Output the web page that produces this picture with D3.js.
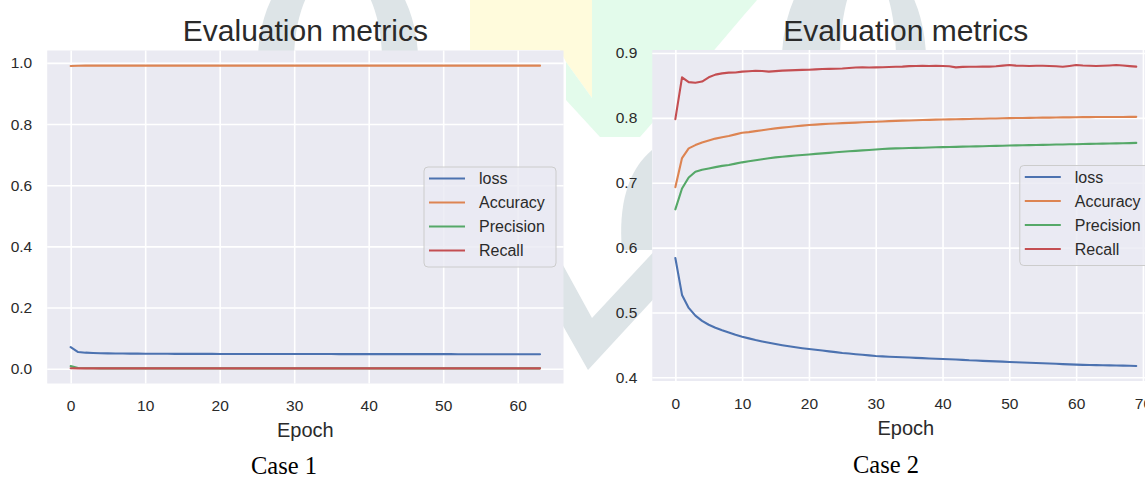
<!DOCTYPE html>
<html>
<head>
<meta charset="utf-8">
<script src="https://cdn.jsdelivr.net/npm/d3@7"></script>
<style>
  body { margin: 0; background: #ffffff; }
  svg { display: block; }
  text { font-family: "Liberation Sans", Arial, sans-serif; fill: #2a2a2a; }
  .caption { font-family: "Liberation Serif", "Times New Roman", serif; fill: #000; }
</style>
</head>
<body>
<svg id="fig" width="1145" height="479"></svg>
<script>
// ---- series names, colours ----
const seriesNames = ["loss", "Accuracy", "Precision", "Recall"];
const seriesColors = ["#4c72b0", "#dd8452", "#55a868", "#c44e52"];

// ---- Case 1 : 64 epochs ----
const case1Loss = [
  0.0705,0.0545,0.0525,0.0515,0.0508,0.0503,0.0500,0.0497,
  0.0495,0.0493,0.0491,0.0490,0.0489,0.0488,0.0487,0.0487,
  0.0486,0.0486,0.0485,0.0485,0.0484,0.0484,0.0484,0.0483,
  0.0483,0.0483,0.0482,0.0482,0.0482,0.0481,0.0481,0.0481,
  0.0480,0.0480,0.0480,0.0480,0.0479,0.0479,0.0479,0.0479,
  0.0478,0.0478,0.0478,0.0478,0.0477,0.0477,0.0477,0.0477,
  0.0476,0.0476,0.0476,0.0476,0.0475,0.0475,0.0475,0.0475,
  0.0474,0.0474,0.0474,0.0474,0.0473,0.0473,0.0473,0.0472
];
const case1Accuracy = [
  0.9900,0.9908,0.9910,0.9910,0.9910,0.9910,0.9910,0.9910,
  0.9910,0.9910,0.9910,0.9910,0.9910,0.9910,0.9910,0.9910,
  0.9910,0.9910,0.9910,0.9910,0.9910,0.9910,0.9910,0.9910,
  0.9910,0.9910,0.9910,0.9910,0.9910,0.9910,0.9910,0.9910,
  0.9910,0.9910,0.9910,0.9910,0.9910,0.9910,0.9910,0.9910,
  0.9910,0.9910,0.9910,0.9910,0.9910,0.9910,0.9910,0.9910,
  0.9910,0.9910,0.9910,0.9910,0.9910,0.9910,0.9910,0.9910,
  0.9910,0.9910,0.9910,0.9910,0.9910,0.9910,0.9910,0.9910
];
const case1Precision = [
  0.0085,0.0025,0.0018,0.0015,0.0013,0.0012,0.0012,0.0012,
  0.0012,0.0012,0.0012,0.0012,0.0012,0.0012,0.0012,0.0012,
  0.0012,0.0012,0.0012,0.0012,0.0012,0.0012,0.0012,0.0012,
  0.0012,0.0012,0.0012,0.0012,0.0012,0.0012,0.0012,0.0012,
  0.0012,0.0012,0.0012,0.0012,0.0012,0.0012,0.0012,0.0012,
  0.0012,0.0012,0.0012,0.0012,0.0012,0.0012,0.0012,0.0012,
  0.0012,0.0012,0.0012,0.0012,0.0012,0.0012,0.0012,0.0012,
  0.0012,0.0012,0.0012,0.0012,0.0012,0.0012,0.0012,0.0012
];
const case1Recall = [
  0.0015,0.0012,0.0012,0.0012,0.0012,0.0012,0.0012,0.0012,
  0.0012,0.0012,0.0012,0.0012,0.0012,0.0012,0.0012,0.0012,
  0.0012,0.0012,0.0012,0.0012,0.0012,0.0012,0.0012,0.0012,
  0.0012,0.0012,0.0012,0.0012,0.0012,0.0012,0.0012,0.0012,
  0.0012,0.0012,0.0012,0.0012,0.0012,0.0012,0.0012,0.0012,
  0.0012,0.0012,0.0012,0.0012,0.0012,0.0012,0.0012,0.0012,
  0.0012,0.0012,0.0012,0.0012,0.0012,0.0012,0.0012,0.0012,
  0.0012,0.0012,0.0012,0.0012,0.0012,0.0012,0.0012,0.0012
];
const case1XTicks = [0, 10, 20, 30, 40, 50, 60];
const case1YTicks = [0.0, 0.2, 0.4, 0.6, 0.8, 1.0];

// ---- Case 2 : 70 epochs ----
const case2Loss = [
  0.5840,0.5270,0.5070,0.4950,0.4870,0.4810,0.4765,0.4725,0.4690,0.4655,
  0.4626,0.4600,0.4575,0.4553,0.4533,0.4513,0.4495,0.4478,0.4463,0.4449,
  0.4436,0.4424,0.4412,0.4400,0.4388,0.4375,0.4366,0.4356,0.4347,0.4338,
  0.4329,0.4323,0.4318,0.4313,0.4310,0.4306,0.4300,0.4295,0.4290,0.4286,
  0.4283,0.4278,0.4274,0.4269,0.4262,0.4258,0.4254,0.4250,0.4245,0.4241,
  0.4237,0.4233,0.4229,0.4224,0.4220,0.4216,0.4212,0.4208,0.4203,0.4199,
  0.4195,0.4192,0.4190,0.4188,0.4186,0.4184,0.4182,0.4180,0.4178,0.4175
];
const case2Accuracy = [
  0.6930,0.7380,0.7530,0.7580,0.7620,0.7650,0.7680,0.7700,0.7720,0.7745,
  0.7770,0.7780,0.7795,0.7810,0.7825,0.7838,0.7849,0.7860,0.7870,0.7880,
  0.7889,0.7896,0.7903,0.7909,0.7914,0.7919,0.7923,0.7927,0.7931,0.7935,
  0.7939,0.7944,0.7949,0.7954,0.7957,0.7960,0.7963,0.7966,0.7969,0.7972,
  0.7975,0.7977,0.7979,0.7981,0.7983,0.7985,0.7987,0.7989,0.7991,0.7993,
  0.7995,0.7997,0.7998,0.8000,0.8001,0.8003,0.8004,0.8006,0.8007,0.8008,
  0.8010,0.8011,0.8011,0.8012,0.8013,0.8013,0.8014,0.8014,0.8015,0.8015
];
const case2Precision = [
  0.6590,0.6910,0.7080,0.7170,0.7200,0.7220,0.7240,0.7260,0.7274,0.7294,
  0.7314,0.7330,0.7346,0.7361,0.7376,0.7390,0.7400,0.7410,0.7419,0.7428,
  0.7436,0.7444,0.7452,0.7460,0.7469,0.7477,0.7484,0.7491,0.7498,0.7505,
  0.7512,0.7519,0.7526,0.7530,0.7532,0.7534,0.7537,0.7540,0.7543,0.7546,
  0.7549,0.7551,0.7553,0.7556,0.7558,0.7560,0.7563,0.7566,0.7568,0.7570,
  0.7573,0.7575,0.7577,0.7579,0.7581,0.7583,0.7586,0.7588,0.7590,0.7592,
  0.7594,0.7596,0.7598,0.7600,0.7602,0.7605,0.7607,0.7609,0.7611,0.7614
];
const case2Recall = [
  0.7980,0.8625,0.8550,0.8540,0.8560,0.8625,0.8666,0.8686,0.8697,0.8700,
  0.8712,0.8718,0.8725,0.8722,0.8712,0.8720,0.8728,0.8732,0.8735,0.8740,
  0.8742,0.8748,0.8752,0.8755,0.8758,0.8760,0.8768,0.8776,0.8778,0.8776,
  0.8778,0.8780,0.8784,0.8788,0.8790,0.8798,0.8800,0.8802,0.8800,0.8803,
  0.8800,0.8795,0.8778,0.8786,0.8788,0.8788,0.8789,0.8790,0.8795,0.8805,
  0.8814,0.8805,0.8802,0.8800,0.8802,0.8803,0.8800,0.8795,0.8788,0.8800,
  0.8814,0.8806,0.8802,0.8800,0.8803,0.8808,0.8814,0.8808,0.8798,0.8790
];
const case2XTicks = [0, 10, 20, 30, 40, 50, 60, 70];
const case2YTicks = [0.4, 0.5, 0.6, 0.7, 0.8, 0.9];

const titleText = "Evaluation metrics";
const xLabelText = "Epoch";

// ---- figure layout ----
const panels = [
  { series: [case1Loss, case1Accuracy, case1Precision, case1Recall],
    xTicks: case1XTicks, yTicks: case1YTicks, caption: "Case 1",
    box: { x0: 47.2, x1: 563.5, y0: 50.5, y1: 383.5 }, captionX: 284, captionY: 474 },
  { series: [case2Loss, case2Accuracy, case2Precision, case2Recall],
    xTicks: case2XTicks, yTicks: case2YTicks, caption: "Case 2",
    box: { x0: 652.3, x1: 1159.3, y0: 50, y1: 381 }, captionX: 886, captionY: 473 }
];

const svg = d3.select("#fig");

// faint emblem printed in the page background
const deco = svg.append("g").attr("class", "emblem");
const grey = "#dde4e7";
// ring segments behind the two titles
deco.append("path")
  .attr("d",
    "M258,60 A80,110 0 1,1 418,60 A80,110 0 1,1 258,60 Z " +
    "M294,60 A44,90 0 1,0 382,60 A44,90 0 1,0 294,60 Z")
  .attr("fill", grey).attr("fill-rule", "evenodd");
deco.append("path")
  .attr("d",
    "M782,60 A72,110 0 1,1 926,60 A72,110 0 1,1 782,60 Z " +
    "M840,60 A28,90 0 1,0 896,60 A28,90 0 1,0 840,60 Z")
  .attr("fill", grey).attr("fill-rule", "evenodd");
deco.append("path")
  .attr("d", "M470,0 L592,0 L592,98 L566,62 L560,50 L470,50 Z")
  .attr("fill", "#fffbdc");
deco.append("path")
  .attr("d", "M592,0 L757,0 C722,40 680,92 640,137 L600,137 L566,100 L566,62 L592,98 Z")
  .attr("fill", "#e3fbeb");
// check mark
deco.append("path")
  .attr("d", "M530,205 L592,318 L660,245 L660,292 L588,370 L520,250 Z")
  .attr("fill", grey);
deco.append("path")
  .attr("d", "M652,150 C628,170 618,205 622,250 L652,250 Z")
  .attr("fill", grey);

const pad = 0.05;

panels.forEach(p => {
  const b = p.box;
  const n = p.series[0].length;
  const allVals = p.series.flat();
  const lo = d3.min(allVals), hi = d3.max(allVals);
  const x = d3.scaleLinear()
    .domain([-(n - 1) * pad, (n - 1) * (1 + pad)])
    .range([b.x0, b.x1]);
  const y = d3.scaleLinear()
    .domain([lo - (hi - lo) * pad, hi + (hi - lo) * pad])
    .range([b.y1, b.y0]);

  const g = svg.append("g");

  // axes face
  g.append("rect")
    .attr("x", b.x0).attr("y", b.y0)
    .attr("width", b.x1 - b.x0).attr("height", b.y1 - b.y0)
    .attr("fill", "#eaeaf2");

  // white grid from the axis generators
  const gridX = g.append("g")
    .attr("transform", `translate(0,${b.y1})`)
    .call(d3.axisBottom(x).tickValues(p.xTicks).tickSize(-(b.y1 - b.y0)).tickFormat(""));
  const gridY = g.append("g")
    .attr("transform", `translate(${b.x0},0)`)
    .call(d3.axisLeft(y).tickValues(p.yTicks).tickSize(-(b.x1 - b.x0)).tickFormat(""));
  [gridX, gridY].forEach(a => {
    a.select(".domain").remove();
    a.selectAll("line").attr("stroke", "#ffffff").attr("stroke-width", 1.6);
  });

  // tick labels
  const axX = g.append("g")
    .attr("transform", `translate(0,${b.y1})`)
    .call(d3.axisBottom(x).tickValues(p.xTicks).tickSize(0).tickPadding(0).tickFormat(d3.format("d")));
  axX.select(".domain").remove();
  axX.selectAll("text")
    .attr("y", 27.5).attr("dy", null)
    .attr("font-size", 15.5).attr("fill", "#2a2a2a")
    .style("font-family", "'Liberation Sans', Arial, sans-serif");

  const axY = g.append("g")
    .attr("transform", `translate(${b.x0},0)`)
    .call(d3.axisLeft(y).tickValues(p.yTicks).tickSize(0).tickPadding(15).tickFormat(d3.format(".1f")));
  axY.select(".domain").remove();
  axY.selectAll("text")
    .attr("font-size", 15.5).attr("fill", "#2a2a2a")
    .style("font-family", "'Liberation Sans', Arial, sans-serif");

  // series lines
  const line = d3.line().x((d, i) => x(i)).y(d => y(d));
  const clipId = "clip" + p.caption.replace(/\s/g, "");
  svg.append("clipPath").attr("id", clipId)
    .append("rect").attr("x", b.x0).attr("y", b.y0)
    .attr("width", b.x1 - b.x0).attr("height", b.y1 - b.y0);
  const lines = g.append("g").attr("clip-path", `url(#${clipId})`);
  p.series.forEach((s, k) => {
    lines.append("path")
      .datum(s)
      .attr("d", line)
      .attr("fill", "none")
      .attr("stroke", seriesColors[k])
      .attr("stroke-width", 2.1)
      .attr("stroke-linejoin", "round")
      .attr("stroke-linecap", "round");
  });

  // legend, centre right
  const lw = 132, lh = 100;
  const lx = b.x1 - 7.5 - lw, ly = (b.y0 + b.y1) / 2 - lh / 2;
  const leg = g.append("g").attr("transform", `translate(${lx},${ly})`);
  leg.append("rect")
    .attr("width", lw).attr("height", lh).attr("rx", 4)
    .attr("fill", "#eaeaf2").attr("fill-opacity", 0.8)
    .attr("stroke", "#cccccc").attr("stroke-width", 1);
  seriesNames.forEach((name, k) => {
    const ry = 11.5 + k * 24;
    leg.append("line")
      .attr("x1", 5).attr("x2", 41).attr("y1", ry).attr("y2", ry)
      .attr("stroke", seriesColors[k]).attr("stroke-width", 2.1);
    leg.append("text")
      .attr("x", 55).attr("y", ry).attr("dy", "0.36em")
      .attr("font-size", 16)
      .text(name);
  });

  // title and axis label
  const cx = (b.x0 + b.x1) / 2;
  g.append("text")
    .attr("x", cx).attr("y", 41)
    .attr("text-anchor", "middle")
    .attr("font-size", 30)
    .text(titleText);
  g.append("text")
    .attr("x", cx).attr("y", b.y1 + 53.5)
    .attr("text-anchor", "middle")
    .attr("font-size", 20)
    .text(xLabelText);

  // caption under the panel
  svg.append("text")
    .attr("class", "caption")
    .attr("x", p.captionX).attr("y", p.captionY)
    .attr("text-anchor", "middle")
    .attr("font-size", 24.5)
    .text(p.caption);
});
</script>
</body>
</html>
